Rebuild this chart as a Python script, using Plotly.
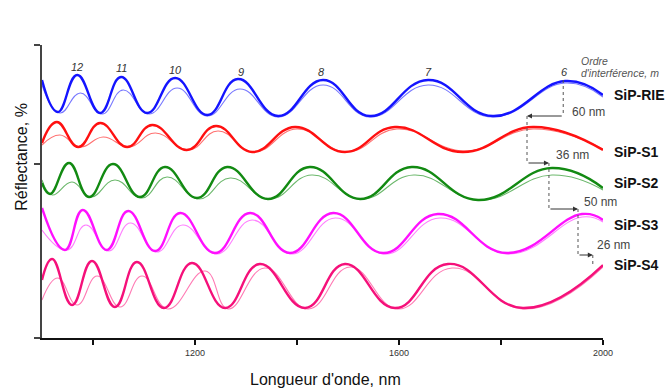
import plotly.graph_objects as go

# ---------- data (wavelength in nm, stacked reflectance in arbitrary offset units) ----------
rie_fit_x = [900, 931, 969, 1014, 1055, 1106, 1161, 1224, 1284, 1363, 1451, 1543, 1657, 1784, 1926, 2000]
rie_fit_y = [258, 226, 263, 225, 261, 225, 260, 223, 259, 222, 258, 222, 258, 222, 257, 243]
rie_exp_x = [900, 935, 975, 1018, 1059, 1110, 1165, 1224, 1288, 1363, 1451, 1543, 1657, 1784, 1926, 2000]
rie_exp_y = [253, 225, 245, 224, 248, 224, 250, 222, 249, 221, 253, 221, 253, 221, 255, 241]

s1_fit_x = [900, 929, 971, 1014, 1067, 1116, 1184, 1241, 1312, 1396, 1494, 1592, 1725, 1863, 2000]
s1_fit_y = [195, 216, 191, 215, 191, 213, 188, 212, 186, 211, 186, 211, 186, 211, 188]
s1_exp_x = [900, 935, 975, 1020, 1071, 1122, 1188, 1245, 1316, 1400, 1498, 1596, 1729, 1863, 2000]
s1_exp_y = [193, 203, 191, 201, 191, 205, 188, 207, 186, 209, 186, 209, 187, 209, 189]

s2_fit_x = [900, 916, 953, 992, 1039, 1092, 1141, 1204, 1263, 1343, 1425, 1524, 1625, 1755, 1900, 2000]
s2_fit_y = [155, 144, 175, 141, 174, 141, 171, 140, 171, 139, 171, 139, 171, 138, 170, 150]
s2_exp_x = [900, 920, 959, 996, 1043, 1096, 1145, 1208, 1269, 1347, 1429, 1527, 1629, 1759, 1900, 2000]
s2_exp_y = [158, 143, 156, 141, 158, 140, 161, 139, 160, 139, 163, 139, 163, 138, 163, 148]

s3_fit_x = [900, 945, 980, 1027, 1069, 1122, 1171, 1239, 1308, 1386, 1471, 1569, 1676, 1812, 1959, 2000]
s3_fit_y = [130, 88, 128, 88, 127, 87, 125, 85, 125, 85, 125, 85, 124, 85, 124, 118]
s3_exp_x = [900, 949, 986, 1031, 1073, 1125, 1176, 1243, 1312, 1390, 1475, 1573, 1680, 1816, 1959, 2000]
s3_exp_y = [108, 88, 113, 87, 115, 86, 113, 84, 118, 84, 120, 84, 120, 84, 121, 116]

s4_fit_x = [900, 920, 959, 998, 1043, 1086, 1139, 1194, 1259, 1327, 1416, 1494, 1592, 1696, 1843, 2000]
s4_fit_y = [58, 79, 33, 77, 31, 76, 30, 75, 30, 74, 30, 74, 30, 74, 30, 73]
s4_exp_x = [900, 931, 969, 1008, 1053, 1096, 1147, 1220, 1265, 1337, 1422, 1504, 1598, 1704, 1847, 2000]
s4_exp_y = [38, 60, 33, 62, 31, 62, 29, 67, 29, 70, 29, 71, 29, 70, 29, 71]

sample_names = ["SiP-RIE", "SiP-S1", "SiP-S2", "SiP-S3", "SiP-S4"]
label_y = [243, 186, 155, 113, 73]
fit_colors = ["#1414ff", "#ff1010", "#128a12", "#ff10ff", "#f5107a"]
exp_colors = ["#7878ff", "#ff7070", "#6cb86c", "#ff80ff", "#ff7ab4"]

# interference orders m
order_labels = ["12", "11", "10", "9", "8", "7", "6"]
order_x = [969, 1055, 1161, 1290, 1449, 1657, 1924]
order_y = [271, 270, 268, 266, 266, 266, 266]

# peak shifts between samples (order 6 maximum)
shift_peak_x = [1922, 1851, 1894, 1951, 1980]
shift_level_y = [258, 222, 175, 129, 83, 72]
shift_labels = ["60 nm", "36 nm", "50 nm", "26 nm"]
shift_label_x = [1935, 1904, 1959, 1984]
shift_label_y = [226, 183, 136, 93]

x_tickvals = [1000, 1200, 1400, 1600, 1800, 2000]
x_ticktext = ["", "1200", "", "1600", "", "2000"]
y_tickvals = [0, 174, 293]

# ---------- figure ----------
fig = go.Figure()
fits = [(rie_fit_x, rie_fit_y), (s1_fit_x, s1_fit_y), (s2_fit_x, s2_fit_y), (s3_fit_x, s3_fit_y), (s4_fit_x, s4_fit_y)]
exps = [(rie_exp_x, rie_exp_y), (s1_exp_x, s1_exp_y), (s2_exp_x, s2_exp_y), (s3_exp_x, s3_exp_y), (s4_exp_x, s4_exp_y)]

for i, name in enumerate(sample_names):
    ex, ey = exps[i]
    fig.add_trace(go.Scatter(x=ex, y=ey, mode="lines",
                             line=dict(color=exp_colors[i], width=1.1, shape="spline", smoothing=1.3),
                             showlegend=False, hoverinfo="skip"))
    fx, fy = fits[i]
    fig.add_trace(go.Scatter(x=fx, y=fy, mode="lines",
                             line=dict(color=fit_colors[i], width=2.4, shape="spline", smoothing=1.3),
                             name=name, showlegend=False))
    fig.add_annotation(xref="paper", yref="y", x=1.016, y=label_y[i], text="<b>%s</b>" % name, showarrow=False,
                       xanchor="left", yanchor="middle", font=dict(size=14, color="#111"))

for t, x, y in zip(order_labels, order_x, order_y):
    fig.add_annotation(x=x, y=y, text="<i>%s</i>" % t, showarrow=False, font=dict(size=11, color="#333"))

fig.add_annotation(x=1953, y=277, text="<i>Ordre</i>", showarrow=False, xanchor="left",
                   font=dict(size=10.5, color="#555"))
fig.add_annotation(x=1953, y=265, text="<i>d'interférence, m</i>", showarrow=False, xanchor="left",
                   font=dict(size=10.5, color="#555"))

# shift brackets: dotted verticals + arrows
dot = dict(color="#555", width=1, dash="dot")
for k in range(len(shift_peak_x)):
    fig.add_shape(type="line", x0=shift_peak_x[k], x1=shift_peak_x[k],
                  y0=shift_level_y[k], y1=shift_level_y[k + 1], line=dot)
for k in range(len(shift_peak_x) - 1):
    fig.add_annotation(x=shift_peak_x[k + 1], y=shift_level_y[k + 1], ax=shift_peak_x[k], ay=shift_level_y[k + 1],
                       xref="x", yref="y", axref="x", ayref="y", text="", showarrow=True,
                       arrowhead=2, arrowsize=1, arrowwidth=1, arrowcolor="#333")
    fig.add_annotation(x=shift_label_x[k], y=shift_label_y[k], text=shift_labels[k], showarrow=False,
                       xanchor="left", font=dict(size=12, color="#444"))

fig.add_annotation(xref="paper", yref="paper", x=-0.036, y=0.618, text="Réflectance, %", textangle=-90,
                   xanchor="center", yanchor="middle", showarrow=False, font=dict(size=16, color="#111"))
fig.add_annotation(xref="paper", yref="paper", x=0.506, y=-0.143, text="Longueur d'onde, nm",
                   xanchor="center", yanchor="middle", showarrow=False, font=dict(size=16, color="#111"))

fig.update_layout(
    width=669, height=388,
    margin=dict(l=42, r=66, t=45, b=50, autoexpand=False),
    plot_bgcolor="white", paper_bgcolor="white",
    font=dict(family="Arial, Liberation Sans, sans-serif"),
    xaxis=dict(range=[900, 2000], showgrid=False, zeroline=False, showline=True, linecolor="#111", linewidth=2,
               ticks="outside", ticklen=5, tickwidth=1.5, tickcolor="#111", tickvals=x_tickvals,
               ticktext=x_ticktext, tickfont=dict(size=9, color="#333"), automargin=False),
    yaxis=dict(range=[0, 293], showgrid=False, zeroline=False, showline=True, linecolor="#444", linewidth=1.5,
               ticks="outside", ticklen=6, tickwidth=1.5, tickcolor="#444", tickvals=y_tickvals,
               showticklabels=False, automargin=False),
)

fig.write_html("out.html", config={"displayModeBar": False},
               post_script="document.body.style.margin='0';document.body.style.overflow='hidden';")
